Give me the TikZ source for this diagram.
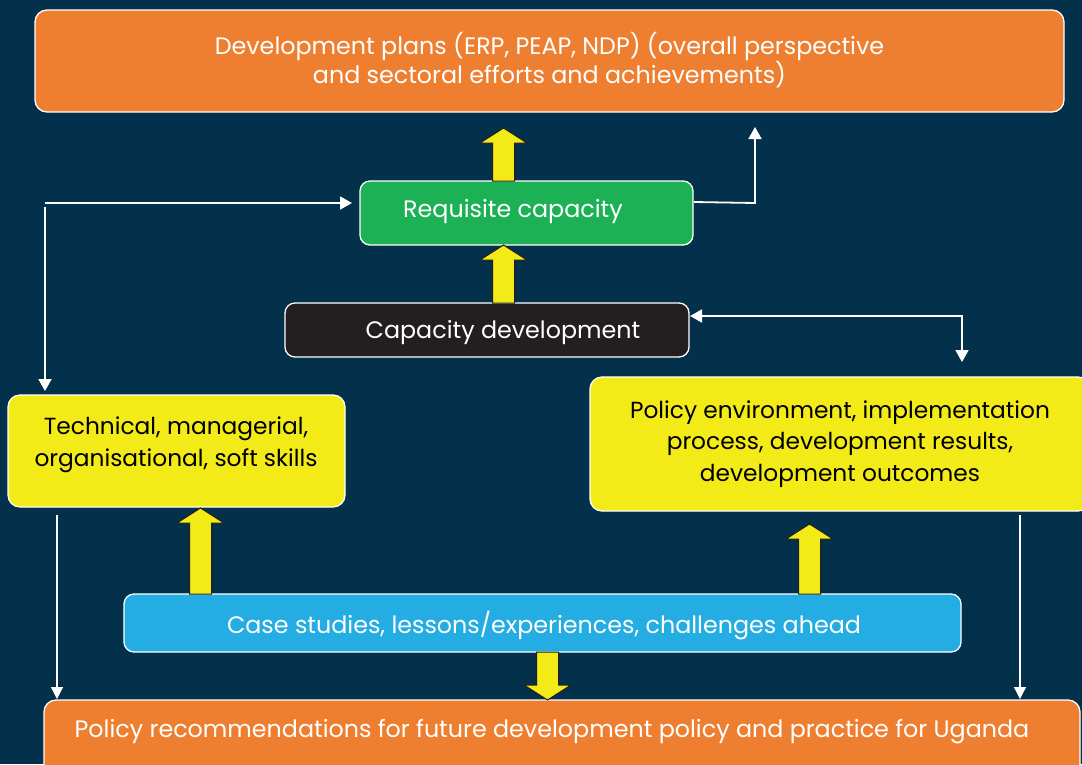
\documentclass[tikz,border=0pt]{standalone}
\usepackage{fontspec}
\setmainfont{Poppins}
\usetikzlibrary{arrows.meta}
\begin{document}
\definecolor{bgnavy}{HTML}{03304A}
\definecolor{boxorange}{HTML}{EE7F31}
\definecolor{boxgreen}{HTML}{1DB155}
\definecolor{boxyellow}{HTML}{F3EB17}
\definecolor{boxblue}{HTML}{23ADE2}
\definecolor{boxblack}{HTML}{231F20}
\begin{tikzpicture}[x=1pt,y=-1pt,
  box/.style={draw=white, line width=1.3pt, rounded corners=12pt},
  whitetxt/.style={text=white, font=\fontsize{23.8}{27}\selectfont, align=center},
  blacktxt/.style={text=black, font=\fontsize{23.3}{31.5}\selectfont, align=center},
  tip/.style={Triangle[length=12pt,width=13pt]},
  thin/.style={draw=white, line width=1.8pt, -{Triangle[length=12pt,width=13pt]}},
  thinner/.style={draw=white, line width=1.3pt, -{Triangle[length=12pt,width=12pt]}},
  fat/.style={fill=boxyellow, draw=boxblack, line width=1pt, line join=miter}
]
% background
\fill[bgnavy] (0,0) rectangle (1082,764);
\useasboundingbox (0,0) rectangle (1082,764);

% vertical block arrow: x centre, tail y, tip y
\newcommand{\fatarrow}[3]{%
  \pgfmathsetmacro{\hb}{#3 > #2 ? #3-15 : #3+15}%
  \draw[fat] (#1-11,#2) -- (#1-11,\hb) -- (#1-23.5,\hb) -- (#1,#3)
    -- (#1+23.5,\hb) -- (#1+11,\hb) -- (#1+11,#2) -- cycle;}

% boxes
\path[box, fill=boxorange] (35,10) rectangle (1064,112);
\node[whitetxt] (plans) at (549.5,60) {Development plans (ERP, PEAP, NDP) (overall perspective\\and sectoral efforts and achievements)};

\path[box, fill=boxgreen, rounded corners=10pt] (360,181) rectangle (693,245);
\node[whitetxt] (req) at (513,212) {Requisite capacity};

\path[box, fill=boxblack, rounded corners=10pt] (285,303) rectangle (689,357);
\node[whitetxt] (capdev) at (503,333) {Capacity development};

\path[box, fill=boxyellow] (8,395) rectangle (345,507);
\node[blacktxt] (skills) at (176,445) {Technical, managerial,\\organisational, soft skills};

\path[box, fill=boxyellow] (590,377) rectangle (1090,511);
\node[blacktxt] (policy) at (840,444) {Policy environment, implementation\\process, development results,\\development outcomes};

\path[box, fill=boxblue, rounded corners=10pt] (124,594) rectangle (961,652);
\node[whitetxt] (cases) at (544,625) {Case studies, lessons/experiences, challenges ahead};

\path[box, fill=boxorange] (44,700) rectangle (1080,780);
\node[whitetxt] (recs) at (552,732) {Policy recommendations for future development policy and practice for Uganda};

% block arrows
\fatarrow{503.5}{181}{128}
\fatarrow{503.5}{303}{245}
\fatarrow{200.5}{594}{508}
\fatarrow{809.5}{594}{524}
\fatarrow{547.5}{652}{700}

% thin connectors
\coordinate (lcorner) at (45,203);
\coordinate (reqin) at (352,203);
\coordinate (lskill) at (45,391);
\draw[thin] (lcorner) -- (reqin);
\draw[thin] (45,207) -- (lskill);

\coordinate (reqout) at (694,202);
\coordinate (rup) at (755,203);
\coordinate (plansin) at (755,127);
\draw[thin] (reqout) -- (rup) -- (plansin);

\coordinate (capout) at (690,316);
\coordinate (rcorner) at (962,316);
\coordinate (polin) at (962,362);
\draw[thin, {Triangle[length=12pt,width=13pt]}-{Triangle[length=12pt,width=13pt]}] (capout) -- (rcorner) -- (polin);

\coordinate (lfrom) at (57,515);
\coordinate (lto) at (57,699);
\draw[thinner] (lfrom) -- (lto);
\coordinate (rfrom) at (1020,515);
\coordinate (rto) at (1020,699);
\draw[thinner] (rfrom) -- (rto);
\end{tikzpicture}
\end{document}
